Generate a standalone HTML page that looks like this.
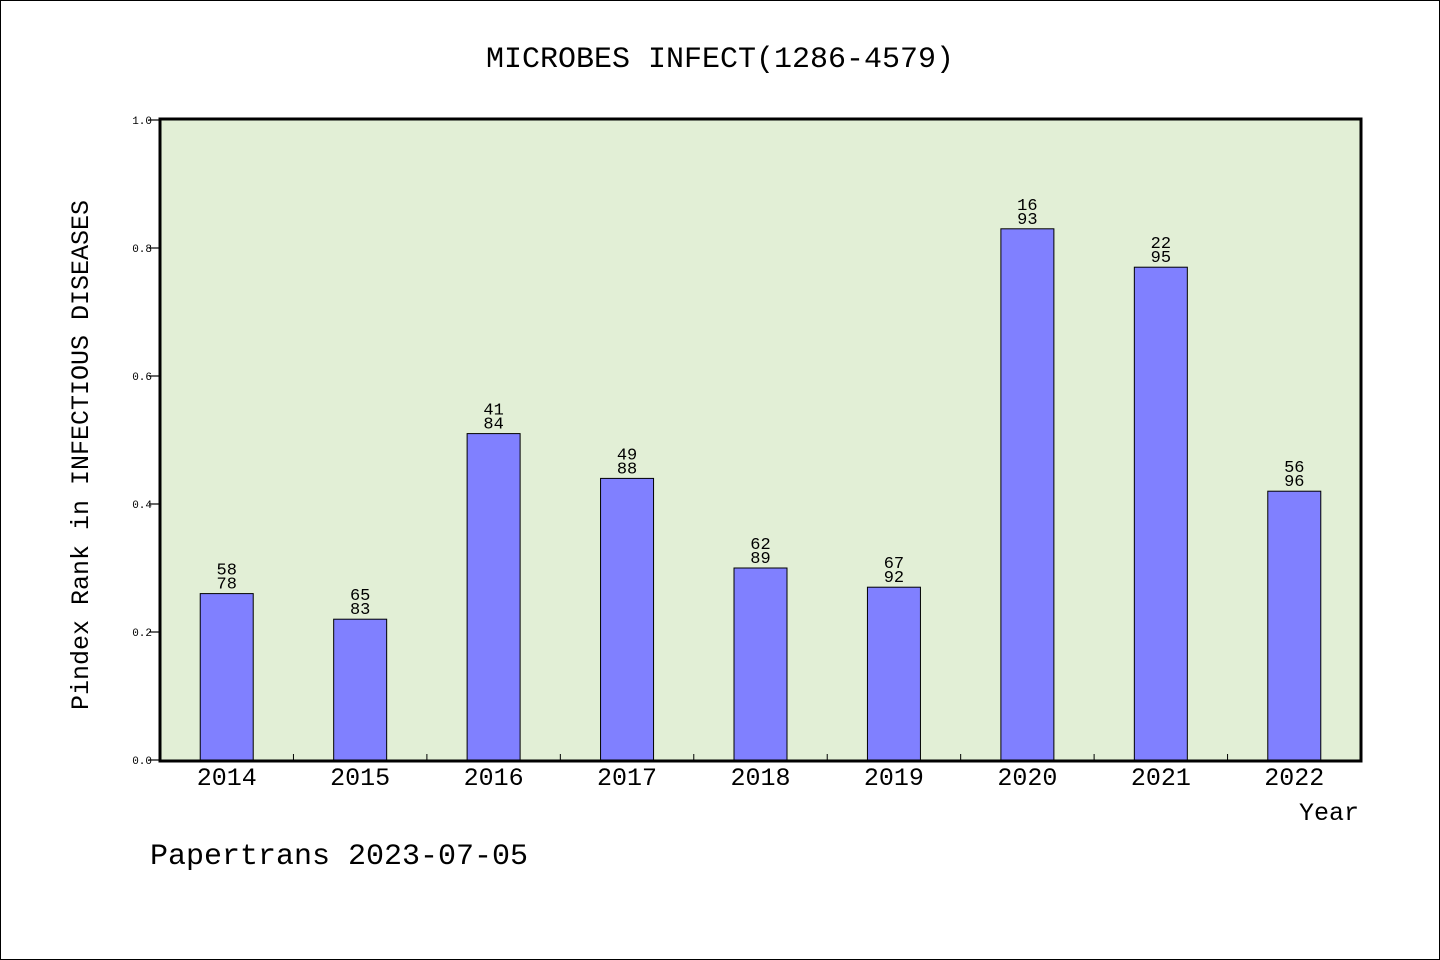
<!DOCTYPE html>
<html><head><meta charset="utf-8"><style>
html,body{margin:0;padding:0;background:#fff}
svg{display:block}
text{font-family:"WenQuanYi Zen Hei Mono","WenQuanYi Zen Hei","Liberation Mono",monospace;fill:#000}
</style></head><body>
<svg id="chart" width="1440" height="960">
<rect x="0.5" y="0.5" width="1439" height="959" fill="#fff" stroke="#000" stroke-width="1"/>
<text x="720" y="67" text-anchor="middle" font-size="30">MICROBES INFECT(1286-4579)</text>
<rect x="160" y="119" width="1201" height="642" fill="#e2efd6"/>
<g id="ticks"></g>
<g id="bars"></g>
<rect x="160" y="119" width="1201" height="642" fill="none" stroke="#000" stroke-width="3"/>
<text x="88" y="455" text-anchor="middle" font-size="25" transform="rotate(-90 88 455)">Pindex Rank in INFECTIOUS DISEASES</text>
<text x="1359" y="820" text-anchor="end" font-size="25">Year</text>
<text x="150" y="864" font-size="30">Papertrans 2023-07-05</text>
</svg>
<script>
const categories = ["2014","2015","2016","2017","2018","2019","2020","2021","2022"];
const values = [0.26,0.22,0.51,0.44,0.30,0.27,0.83,0.77,0.42];
const labelTop = ["58","65","41","49","62","67","16","22","56"];
const labelBottom = ["78","83","84","88","89","92","93","95","96"];
const yTicks = [0.0,0.2,0.4,0.6,0.8,1.0];
const yTickLabels = ["0.0","0.2","0.4","0.6","0.8","1.0"];

const NS = "http://www.w3.org/2000/svg";
const X0 = 160, X1 = 1361, Y0 = 760, Y1 = 120;
const band = (X1 - X0) / categories.length;
const xCenter = i => X0 + band * (i + 0.5);
const yScale = v => Y0 - (v / 1.0) * (Y0 - Y1);
function mk(tag, attrs, parent){const e=document.createElementNS(NS,tag);for(const k in attrs)e.setAttribute(k,attrs[k]);parent.appendChild(e);return e;}
const tg = document.getElementById("ticks"), bg = document.getElementById("bars");

yTicks.forEach((t,i)=>{
  const y = yScale(t);
  const l = mk("line",{x1:149,x2:160,y1:y,y2:y,stroke:"#000","stroke-width":1.2},tg);
  
  
  const tx = mk("text",{x:152,y:y+4,"text-anchor":"end","font-size":11},tg);
  tx.textContent = yTickLabels[i];
  
  
});
for(let i=1;i<categories.length;i++){
  const x = X0 + band*i;
  const l = mk("line",{x1:x,x2:x,y1:761,y2:754,stroke:"#000","stroke-width":1},tg);
  
  
}
categories.forEach((c,i)=>{
  const cx = xCenter(i), w = 53, y = yScale(values[i]);
  const r = mk("rect",{x:cx-w/2,y:y,width:w,height:Y0-y,fill:"#8080ff",stroke:"#000","stroke-width":1},bg);
  
  
  const t1 = mk("text",{x:cx,y:y-19,"text-anchor":"middle","font-size":17},bg);
  t1.textContent = labelTop[i];
  
  
  const t2 = mk("text",{x:cx,y:y-5,"text-anchor":"middle","font-size":17},bg);
  t2.textContent = labelBottom[i];
  
  
  const xl = mk("text",{x:cx,y:785,"text-anchor":"middle","font-size":25},bg);
  xl.textContent = c;
  
  
});
</script>
</body></html>
